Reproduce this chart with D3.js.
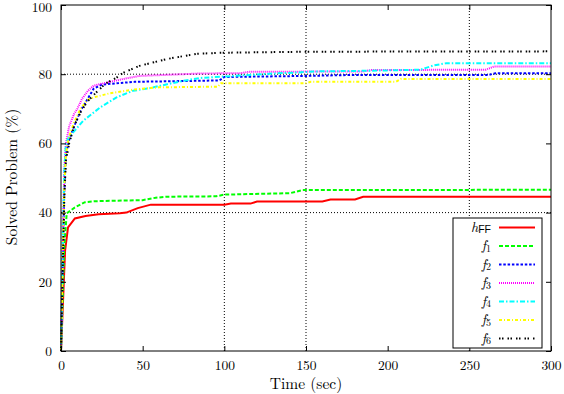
<!DOCTYPE html>
<html>
<head>
  <meta charset="utf-8">
  <title>Solved problems over time</title>
  <style>
    body { margin: 0; background: #fff; }
    svg text { font-family: "Latin Modern Roman", "Liberation Serif", "Times New Roman", serif; fill: #000; }
  </style>
</head>
<body>
  <div id='chart'></div>
  <script src="https://d3js.org/d3.v7.min.js"></script>
  <script>

    // ---------------------------------------------------------------- data
    let xTicks = [0, 50, 100, 150, 200, 250, 300];
    let yTicks = [0, 20, 40, 60, 80, 100];
    let xGrid = [100, 150, 250];
    let yGrid = [40, 80];

    // [time (sec), solved (%)]
    let hFF = [[0,0],[0.7,8],[2.5,29],[4.3,35.7],[8.5,38.3],[15,39],[23,39.5],[36,39.8],[40,40],
      [47,41.3],[55,42.3],[100,42.3],[104,42.6],[116,42.6],[120,43.2],[160,43.2],[165,43.8],
      [180,43.8],[185,44.6],[300,44.6]];
    let f1 = [[0,0],[1,15],[2,30],[3.5,39.8],[8.5,41.5],[14.7,43],[21,43.3],[50,43.6],[58,44.3],
      [65,44.6],[95,44.7],[100,45.2],[140,45.6],[148,46.5],[300,46.6]];
    let f2 = [[0,0],[1,25],[2,46],[3,57],[5,61],[8,65],[12,69.5],[15,71.8],[20,75.8],[25,77],
      [45,77.8],[85,78.1],[97,78.2],[100,79.2],[150,79.5],[180,79.8],[262,79.8],[266,80.3],[300,80.3]];
    let f3 = [[0,0],[1,28],[2,52],[3,60],[5,65],[8,68.5],[10,70],[13,73],[16.5,75.2],[20,76.7],
      [30,77.8],[39,78.7],[48,79.5],[85,80.2],[110,80.3],[115,80.7],[185,80.8],[190,81.2],
      [260,81.3],[265,82.2],[300,82.2]];
    let f4 = [[0,0],[1,28],[2,52],[3,60],[5,62],[8,63.5],[13.5,66.5],[24,70.4],[34,73.3],[44,75.2],
      [54.5,76],[65,77.1],[75,78.1],[85,78.9],[99,79.3],[116,79.8],[130,80.2],[145,80.5],
      [155,80.8],[190,81],[220,81.3],[228,82.5],[236,83.2],[300,83.2]];
    let f5 = [[0,0],[1,25],[2,47],[3,57],[5,62],[8,66],[12,70],[16,72.5],[20,73.3],[30,74.5],
      [45,75.6],[60,76.2],[96,76.4],[98,77.4],[150,77.4],[153,77.8],[205,77.8],[208,78.6],[300,78.6]];
    let f6 = [[0,0],[1,22],[2,44],[3,55],[5,60],[8,65],[12,69],[16,72],[20,74],[27,77.2],[34,79],
      [38,80.4],[48,82.4],[65,84.4],[83,85.9],[99,86.2],[150,86.5],[300,86.6]];

    let seriesNames = ['FF', '1', '2', '3', '4', '5', '6'];
    let seriesData = [hFF, f1, f2, f3, f4, f5, f6];
    let seriesColors = ['#ff0000', '#00ff00', '#0000ff', '#ff00ff', '#00ffff', '#ffff00', '#000000'];
    let seriesDash = [null, '4,2', '2.5,1.8', '1,1', '5,2,1.5,2', '3,2,1,2', '1.5,1.5,1.5,4'];

    // ---------------------------------------------------------------- layout
    function translate(x, y) {
      return 'translate(' + x + ',' + y + ')';
    }

    let svgWidth = 564;
    let svgHeight = 394;
    let margin = {top: 5, right: 13, bottom: 43, left: 61};
    let width = svgWidth - margin.left - margin.right;
    let height = svgHeight - margin.top - margin.bottom;

    let svg = d3.select('#chart')
      .append('svg')
      .attr('width', svgWidth)
      .attr('height', svgHeight);

    let g = svg.append('g')
      .attr('transform', translate(margin.left, margin.top));

    let x = d3.scaleLinear().domain([0, 300]).range([0, width]);
    let y = d3.scaleLinear().domain([0, 100]).range([height, 0]);

    // grid
    g.selectAll('.gx')
      .data(xGrid)
      .enter()
      .append('line')
      .attr('x1', d => x(d)).attr('x2', d => x(d))
      .attr('y1', 0).attr('y2', height)
      .attr('stroke', '#000').attr('stroke-width', 1)
      .attr('stroke-dasharray', '1,2');

    g.selectAll('.gy')
      .data(yGrid)
      .enter()
      .append('line')
      .attr('x1', 0).attr('x2', width)
      .attr('y1', d => y(d)).attr('y2', d => y(d))
      .attr('stroke', '#000').attr('stroke-width', 1)
      .attr('stroke-dasharray', '1,2');

    // curves
    let line = d3.line()
      .x(d => x(d[0]))
      .y(d => y(d[1]));

    g.selectAll('.curve')
      .data(seriesData)
      .enter()
      .append('path')
      .attr('class', 'curve')
      .attr('d', d => line(d))
      .attr('fill', 'none')
      .attr('stroke', (d, i) => seriesColors[i])
      .attr('stroke-width', 2)
      .attr('stroke-dasharray', (d, i) => seriesDash[i]);

    // axes, ticks pointing inward on all four sides
    g.append('g')
      .attr('transform', translate(0, height))
      .call(d3.axisBottom(x).tickValues(xTicks).tickSizeInner(-5).tickSizeOuter(0).tickPadding(9));
    let yAxis = g.append('g')
      .call(d3.axisLeft(y).tickValues(yTicks).tickSizeInner(-5).tickSizeOuter(0).tickPadding(9));
    g.append('g')
      .call(d3.axisTop(x).tickValues(xTicks).tickSizeInner(-5).tickSizeOuter(0).tickFormat(''));
    g.append('g')
      .attr('transform', translate(width, 0))
      .call(d3.axisRight(y).tickValues(yTicks).tickSizeInner(-5).tickSizeOuter(0).tickFormat(''));

    g.selectAll('.domain').remove();
    g.selectAll('.tick line').attr('stroke', '#000');
    g.selectAll('.tick text')
      .style('font-family', '"Latin Modern Roman", "Liberation Serif", serif')
      .style('font-size', '13.5px');
    // keep the top label inside the page
    yAxis.selectAll('.tick text')
      .filter(d => d === 100)
      .attr('dy', '0.5em');

    g.append('rect')
      .attr('width', width)
      .attr('height', height)
      .attr('fill', 'none')
      .attr('stroke', '#000')
      .attr('stroke-width', 1);

    // axis titles
    svg.append('text')
      .attr('x', margin.left + width / 2)
      .attr('y', 389)
      .attr('text-anchor', 'middle')
      .style('font-size', '15.5px')
      .text('Time (sec)');

    svg.append('text')
      .attr('transform', translate(17, margin.top + height / 2 - 1) + ' rotate(-90)')
      .attr('text-anchor', 'middle')
      .style('font-size', '15.5px')
      .text('Solved Problem (%)');

    // legend
    let legend = svg.append('g')
      .attr('transform', translate(453, 218));

    legend.append('rect')
      .attr('width', 89)
      .attr('height', 130)
      .attr('fill', '#fff')
      .attr('stroke', '#000')
      .attr('stroke-width', 1);

    let rows = legend.selectAll('.row')
      .data(seriesNames)
      .enter()
      .append('g')
      .attr('transform', (d, i) => translate(0, 9.5 + i * 18.5));

    rows.append('line')
      .attr('x1', 46).attr('x2', 82)
      .attr('y1', 0).attr('y2', 0)
      .attr('stroke', (d, i) => seriesColors[i])
      .attr('stroke-width', 2)
      .attr('stroke-dasharray', (d, i) => seriesDash[i]);

    let label = rows.append('text')
      .attr('x', 38)
      .attr('y', 4)
      .attr('text-anchor', 'end');

    label.append('tspan')
      .style('font-style', 'italic')
      .style('font-size', '14px')
      .text((d, i) => i === 0 ? 'h' : 'f');

    label.append('tspan')
      .attr('dy', 1.5)
      .style('font-size', (d, i) => i === 0 ? '10.5px' : '10px')
      .style('font-family', (d, i) => i === 0 ? '"Liberation Sans", Arial, sans-serif' : null)
      .text(d => d);

  </script>
</body>
</html>
